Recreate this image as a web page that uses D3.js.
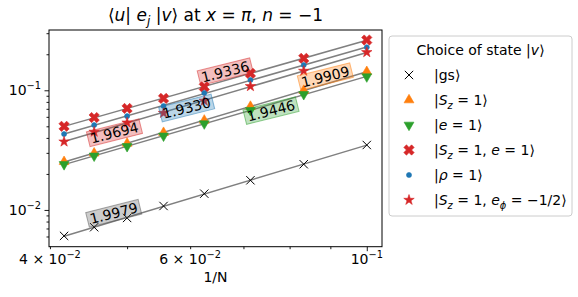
<!DOCTYPE html>
<html>
<head>
<meta charset="utf-8">
<script src="https://cdn.jsdelivr.net/npm/d3@7"></script>
<style>
  body { margin: 0; background: #fff; }
  svg { font-family: "DejaVu Sans", sans-serif; }
</style>
</head>
<body>
<script>
// system sizes and x values (1/N)
const Ns = [24, 22, 20, 18, 16, 14, 12, 10];

// matrix elements, one array per state
const gsVals    = [0.00607, 0.00717, 0.00857, 0.01079, 0.01368, 0.0177, 0.0241, 0.0349];
const sz1Vals   = [0.0253, 0.0298, 0.0360, 0.0443, 0.0561, 0.0732, 0.0995, 0.143];
const e1Vals    = [0.0240, 0.0283, 0.0340, 0.0416, 0.0526, 0.0680, 0.0925, 0.130];
const sz1e1Vals = [0.0500, 0.0592, 0.0705, 0.0855, 0.1068, 0.1385, 0.1850, 0.263];
const rho1Vals  = [0.0431, 0.0512, 0.0608, 0.0739, 0.0950, 0.1219, 0.1625, 0.2287];
const ephiVals  = [0.0372, 0.0449, 0.0536, 0.0645, 0.0815, 0.1080, 0.1450, 0.2077];

// fitted exponents shown on the lines
const exponents = ["1.9979", "1.9909", "1.9446", "1.9336", "1.9330", "1.9694"];
// where the exponent labels sit (data coords)
const labelX = [0.0481, 0.0887, 0.0758, 0.0664, 0.0594, 0.0482];
const labelY = [0.00938, 0.130, 0.0676, 0.143, 0.0711, 0.0442];

// ticks
const xMajorTicks = [0.1];
const xMinorTicks = [0.04, 0.05, 0.06, 0.07, 0.08, 0.09];
const xTickLabels = [[0.04, "4"], [0.06, "6"], [0.1, null]];
const yMajorTicks = [0.01, 0.1];
const yMinorTicks = [0.006, 0.007, 0.008, 0.009, 0.02, 0.03, 0.04, 0.05, 0.06, 0.07, 0.08, 0.09, 0.2, 0.3];

// legend text pieces (i = italic, sub = subscript)
const legendLabels = [
  [{t: "|gs⟩"}],
  [{t: "|"}, {t: "S", i: 1}, {t: "z", i: 1, sub: 1}, {t: " = 1⟩"}],
  [{t: "|"}, {t: "e", i: 1}, {t: " = 1⟩"}],
  [{t: "|"}, {t: "S", i: 1}, {t: "z", i: 1, sub: 1}, {t: " = 1, "}, {t: "e", i: 1}, {t: " = 1⟩"}],
  [{t: "|"}, {t: "ρ", i: 1}, {t: " = 1⟩"}],
  [{t: "|"}, {t: "S", i: 1}, {t: "z", i: 1, sub: 1}, {t: " = 1, "}, {t: "e", i: 1}, {t: "ϕ", i: 1, sub: 1}, {t: " = −1/2⟩"}]
];

const series = [gsVals, sz1Vals, e1Vals, sz1e1Vals, rho1Vals, ephiVals];

// styles
const colors = ["#000000", "#ff7f0e", "#2ca02c", "#d62728", "#1f77b4", "#d62728"];
const boxColors = ["#555555", "#ff7f0e", "#2ca02c", "#d62728", "#1f77b4", "#d62728"];

const xMark = {
  draw(ctx, size) {
    const r = Math.sqrt(size) / 2;
    ctx.moveTo(-r, -r); ctx.lineTo(r, r);
    ctx.moveTo(-r, r); ctx.lineTo(r, -r);
  }
};
const markers = [
  {type: xMark, size: 70, rot: 0, stroke: true},
  {type: d3.symbolTriangle, size: 42, rot: 0},
  {type: d3.symbolTriangle, size: 42, rot: 180},
  {type: d3.symbolCross, size: 66, rot: 45},
  {type: d3.symbolCircle, size: 20, rot: 0},
  {type: d3.symbolStar, size: 34, rot: 0}
];

const width = 578, height = 297;
const margin = {left: 49, right: 196, top: 30, bottom: 50.3};
const chartWidth = width - margin.left - margin.right;
const chartHeight = height - margin.top - margin.bottom;

const svg = d3.select("body").append("svg")
    .attr("width", width)
    .attr("height", height);

const g = svg.append("g")
    .attr("transform", "translate(" + margin.left + "," + margin.top + ")");

const xScale = d3.scaleLog().domain([0.03989, 0.1045]).range([0, chartWidth]);
const yScale = d3.scaleLog().domain([0.00493, 0.319]).range([chartHeight, 0]);

// write mathtext-ish pieces into a text element
function richText(sel, parts, size) {
  let cur = 0;
  parts.forEach(p => {
    const target = p.sub ? size * 0.25 : 0;
    sel.append("tspan")
        .attr("dy", target - cur)
        .attr("font-size", p.sub ? size * 0.7 : size)
        .attr("font-style", p.i ? "italic" : null)
        .text(p.t);
    cur = target;
  });
}

function powerLabel(sel, mant, exp, size) {
  let t = sel.text(null);
  if (mant) t.append("tspan").text(mant + " × ");
  t.append("tspan").text("10");
  t.append("tspan").attr("dy", -size * 0.42).attr("font-size", size * 0.7).text("−" + exp);
}

// axes (ticks only, labels added by hand)
g.append("g").attr("transform", "translate(0," + chartHeight + ")")
    .call(d3.axisBottom(xScale).tickValues(xMinorTicks).tickSize(2.5).tickFormat(""));
g.append("g").attr("transform", "translate(0," + chartHeight + ")")
    .call(d3.axisBottom(xScale).tickValues(xMajorTicks).tickSize(4.5).tickFormat(""));
g.append("g")
    .call(d3.axisLeft(yScale).tickValues(yMinorTicks).tickSize(2.5).tickFormat(""));
g.append("g")
    .call(d3.axisLeft(yScale).tickValues(yMajorTicks).tickSize(4.5).tickFormat(""));
g.selectAll(".domain").remove();
g.selectAll(".tick line").attr("stroke", "#000").attr("stroke-width", 0.9);

// frame
g.append("rect")
    .attr("width", chartWidth).attr("height", chartHeight)
    .attr("fill", "none").attr("stroke", "#000").attr("stroke-width", 1);

const tickSize = 14;
xTickLabels.forEach(([v, mant]) => {
  const t = g.append("text")
      .attr("x", xScale(v)).attr("y", chartHeight + 17)
      .attr("text-anchor", "middle").attr("font-size", tickSize);
  powerLabel(t, mant, Math.round(-Math.log10(v / (mant ? +mant : 1))), tickSize);
});
yMajorTicks.forEach(v => {
  const t = g.append("text")
      .attr("x", -8).attr("y", yScale(v) + 5)
      .attr("text-anchor", "end").attr("font-size", tickSize);
  powerLabel(t, null, Math.round(-Math.log10(v)), tickSize);
});

g.append("text")
    .attr("x", chartWidth / 2).attr("y", chartHeight + 35)
    .attr("text-anchor", "middle").attr("font-size", 14)
    .text("1/N");

// title
const title = svg.append("text")
    .attr("x", margin.left + chartWidth / 2).attr("y", 21)
    .attr("text-anchor", "middle");
richText(title, [
  {t: "⟨"}, {t: "u", i: 1}, {t: "| "}, {t: "e", i: 1}, {t: "j", i: 1, sub: 1},
  {t: " |"}, {t: "v", i: 1}, {t: "⟩ at "}, {t: "x", i: 1}, {t: " = "}, {t: "π", i: 1}, {t: ", "},
  {t: "n", i: 1}, {t: " =  −1"}
], 17);

// power-law fits in log space
function fitPower(xs, ys) {
  const lx = xs.map(Math.log10), ly = ys.map(Math.log10);
  const mx = d3.mean(lx), my = d3.mean(ly);
  const b = d3.sum(lx, (v, i) => (v - mx) * (ly[i] - my)) / d3.sum(lx, v => (v - mx) ** 2);
  return {a: my - b * mx, b: b};
}

const xs = Ns.map(n => 1 / n);
const line = d3.line().x(d => xScale(d[0])).y(d => yScale(d[1]));

series.forEach(vals => {
  const f = fitPower(xs, vals);
  const ends = [xs[0], xs[xs.length - 1]].map(x => [x, Math.pow(10, f.a + f.b * Math.log10(x))]);
  g.append("path")
      .attr("d", line(ends))
      .attr("fill", "none")
      .attr("stroke", "#808080")
      .attr("stroke-width", 1.5);
});

function drawMarker(sel, k) {
  const m = markers[k];
  sel.attr("d", d3.symbol().type(m.type).size(m.size)())
      .attr("fill", m.stroke ? "none" : colors[k])
      .attr("stroke", colors[k])
      .attr("stroke-width", m.stroke ? 1 : 0.6);
}

series.forEach((vals, k) => {
  g.append("g").selectAll("path")
      .data(vals)
      .enter()
      .append("path")
      .attr("transform", (d, i) => "translate(" + xScale(xs[i]) + "," + yScale(d) + ") rotate(" + markers[k].rot + ")")
      .call(drawMarker, k);
});

// exponent labels
exponents.forEach((txt, k) => {
  const lg = g.append("g")
      .attr("transform", "translate(" + xScale(labelX[k]) + "," + yScale(labelY[k]) + ") rotate(-14)");
  const rect = lg.append("rect");
  const t = lg.append("text")
      .attr("text-anchor", "middle").attr("y", 5)
      .attr("font-size", 14).text(txt);
  const bb = t.node().getBBox();
  rect.attr("x", bb.x - 2.5).attr("y", bb.y + 0.5)
      .attr("width", bb.width + 5).attr("height", bb.height - 1)
      .attr("fill", boxColors[k]).attr("fill-opacity", 0.3)
      .attr("stroke", boxColors[k]).attr("stroke-opacity", 0.5).attr("stroke-width", 1);
});

// legend
const legend = svg.append("g").attr("transform", "translate(389,36)");
legend.append("rect")
    .attr("width", 183).attr("height", 180).attr("rx", 3)
    .attr("fill", "#fff").attr("stroke", "#cccccc").attr("stroke-width", 1);
const lt = legend.append("text")
    .attr("x", 91.5).attr("y", 19).attr("text-anchor", "middle");
richText(lt, [{t: "Choice of state |"}, {t: "v", i: 1}, {t: "⟩"}], 14);

legendLabels.forEach((parts, k) => {
  const yy = 39 + k * 25;
  legend.append("path")
      .attr("transform", "translate(20," + yy + ") rotate(" + markers[k].rot + ")")
      .call(drawMarker, k);
  const t = legend.append("text").attr("x", 45).attr("y", yy + 5);
  richText(t, parts, 14);
});
</script>
</body>
</html>
